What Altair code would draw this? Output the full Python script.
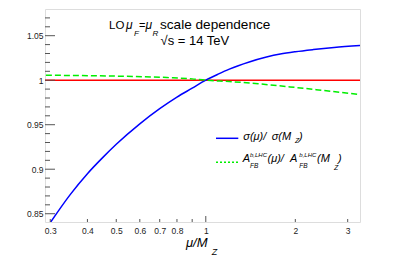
import altair as alt
import pandas as pd

# ---- data ----
blue_x = [0.3, 0.35, 0.4, 0.45, 0.5, 0.6, 0.7, 0.8, 0.9, 1.0, 1.1, 1.2, 1.4, 1.6, 1.78, 2.0, 2.3, 2.7, 3.3]
blue_y = [0.840, 0.8715, 0.895, 0.913, 0.928, 0.951, 0.968, 0.981, 0.991, 1.0, 1.0068, 1.0125, 1.0205, 1.026, 1.0294, 1.032, 1.0344, 1.0367, 1.0389]

green_x = [0.29, 0.44, 0.74, 0.9, 1.0, 1.2, 1.5, 1.92, 2.5, 3.3]
green_y = [1.0056, 1.0049, 1.003, 1.0015, 1.0, 0.9985, 0.996, 0.9925, 0.9884, 0.984]

red_x = [0.288, 3.3]
red_y = [1.0, 1.0]

x_label_values = [0.3, 0.4, 0.5, 0.6, 0.7, 0.8, 1, 2, 3]
x_small_ticks = [0.3, 0.4, 0.5, 0.6, 0.7, 0.8, 0.9, 2, 3]
x_big_ticks = [1]
y_major = [0.85, 0.9, 0.95, 1.0, 1.05]
y_minor = [0.86, 0.87, 0.88, 0.89, 0.91, 0.92, 0.93, 0.94, 0.96, 0.97, 0.98, 0.99,
           1.01, 1.02, 1.03, 1.04, 1.06, 1.07]

X_DOMAIN = [0.288, 3.30]
Y_DOMAIN = [0.8407, 1.080]
W, H = 315, 213
FONT = "Liberation Sans"

xs = alt.Scale(type="log", domain=X_DOMAIN, nice=False)
ys = alt.Scale(domain=Y_DOMAIN, nice=False, zero=False)

xaxis = alt.Axis(values=x_label_values, format="~g", ticks=False, domain=False, grid=False,
                 labelPadding=4, labelFontSize=8.5, labelFont=FONT, labelColor="#222",
                 labelFlush=False, title=None)
yaxis = alt.Axis(values=y_major, format="~g", ticks=False, domain=False, grid=False,
                 labelPadding=2, labelFontSize=8.5, labelFont=FONT, labelColor="#222",
                 title=None)


def line(xv, yv, color, dash=None):
    df = pd.DataFrame({"x": xv, "y": yv})
    kw = dict(color=color, strokeWidth=1.5, clip=True, interpolate="monotone")
    if dash:
        kw["strokeDash"] = dash
    return alt.Chart(df).mark_line(**kw).encode(
        x=alt.X("x:Q", scale=xs, axis=xaxis),
        y=alt.Y("y:Q", scale=ys, axis=yaxis),
    )


red = line(red_x, red_y, "#ff0000")
blue = line(blue_x, blue_y, "#0000ff")
green = line(green_x, green_y, "#00ee00", dash=[6, 3])

# inside ticks (ROOT style)
def yticks(vals, length):
    return alt.Chart(pd.DataFrame({"y": vals})).mark_rule(color="#555", strokeWidth=1).encode(
        y=alt.Y("y:Q", scale=ys), x=alt.value(0), x2=alt.value(length))


def xticks(vals, length):
    return alt.Chart(pd.DataFrame({"x": vals})).mark_rule(color="#555", strokeWidth=1).encode(
        x=alt.X("x:Q", scale=xs), y=alt.value(H), y2=alt.value(H - length))


ticks = [yticks(y_major, 10), yticks(y_minor, 5), xticks(x_small_ticks, 3), xticks(x_big_ticks, 6)]


def txt(s, x, y, size=11, italic=False):
    return alt.Chart(pd.DataFrame({"t": [s]})).mark_text(
        align="left", baseline="alphabetic", font=FONT, fontSize=size,
        fontStyle="italic" if italic else "normal", color="#000"
    ).encode(text="t:N", x=alt.value(x), y=alt.value(y))


texts = [
    # header
    txt("LO", 64, 20.3, 11.5),
    txt("μ", 81, 20.3, 12, True),
    txt("F", 89, 27, 8, True),
    txt("=", 94, 20.3, 11),
    txt("μ", 100.5, 20.3, 12, True),
    txt("R", 107.5, 27, 8, True),
    txt("scale dependence", 115, 20.3, 13.6),
    txt("√s = 14 TeV", 115.5, 36, 13),
    # x-axis title
    txt("μ/M", 141, 238, 13, True),
    txt("Z", 166.7, 246, 9, True),
    # legend line 1
    txt("σ(μ)/", 198.3, 131, 11, True),
    txt("σ(M", 226.7, 131, 11, True),
    txt("Z", 250, 134.3, 7, True),
    txt(")", 254, 131, 11, True),
    # legend line 2
    txt("A", 197.7, 153.3, 11, True),
    txt("b,LHC", 205, 148.3, 6, True),
    txt("FB", 205, 158.7, 6.5, True),
    txt("(μ)/", 222.5, 153.3, 11, True),
    txt("A", 245, 153.3, 11, True),
    txt("b,LHC", 254.3, 148.3, 6, True),
    txt("FB", 254.3, 158.7, 6.5, True),
    txt("(M", 272, 153.3, 11, True),
    txt("Z", 289, 161, 7, True),
    txt(")", 293, 153.3, 11, True),
]

one = pd.DataFrame({"k": [0]})
leg_blue = alt.Chart(one).mark_rule(color="#0000ff", strokeWidth=1.5).encode(
    x=alt.value(171), x2=alt.value(193.3), y=alt.value(129.3))
leg_green = alt.Chart(one).mark_rule(color="#00ee00", strokeWidth=1.5, strokeDash=[2, 2]).encode(
    x=alt.value(171), x2=alt.value(193.3), y=alt.value(153.3))

chart = alt.layer(red, blue, green, *ticks, leg_blue, leg_green, *texts).properties(
    width=W, height=H, autosize="none",
    padding={"left": 37, "top": 1, "right": 26, "bottom": 37},
).configure_view(stroke="#444", strokeWidth=1).configure(background="white")

chart.save("out.html", embed_options={"renderer": "svg", "actions": False})
